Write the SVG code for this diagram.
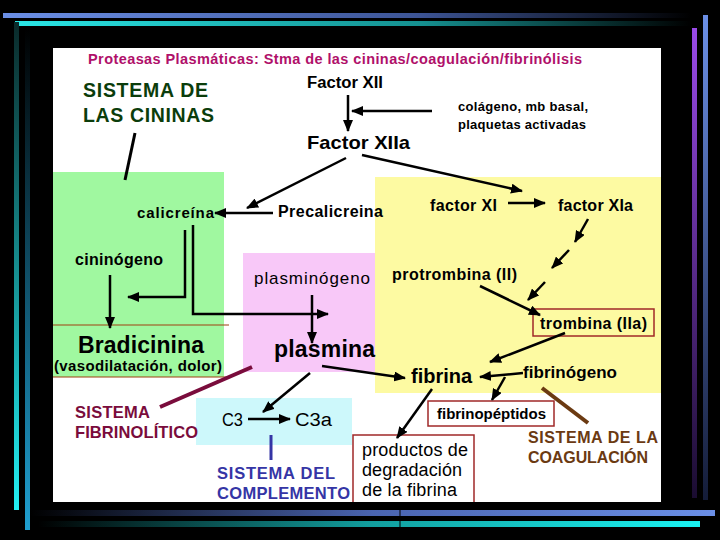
<svg xmlns="http://www.w3.org/2000/svg" width="720" height="540" viewBox="0 0 720 540">
<defs>
<linearGradient id="gTop1" x1="0" y1="0" x2="1" y2="0"><stop offset="0" stop-color="#6b8fe6"/><stop offset="0.6" stop-color="#3d5596"/><stop offset="1" stop-color="#000"/></linearGradient>
<linearGradient id="gTop2" x1="0" y1="0" x2="1" y2="0"><stop offset="0" stop-color="#2ae6e6"/><stop offset="0.6" stop-color="#159090"/><stop offset="1" stop-color="#000"/></linearGradient>
<linearGradient id="gL1" x1="0" y1="0" x2="0" y2="1"><stop offset="0" stop-color="#0a2a2a"/><stop offset="1" stop-color="#22eef2"/></linearGradient>
<linearGradient id="gL2" x1="0" y1="0" x2="0" y2="1"><stop offset="0" stop-color="#000"/><stop offset="1" stop-color="#1f9fd0"/></linearGradient>
<linearGradient id="gR1" x1="0" y1="0" x2="0" y2="1"><stop offset="0" stop-color="#9a4ae8"/><stop offset="1" stop-color="#1a0c30"/></linearGradient>
<linearGradient id="gR2" x1="0" y1="0" x2="0" y2="1"><stop offset="0" stop-color="#6b8fe6"/><stop offset="1" stop-color="#141c38"/></linearGradient>
<linearGradient id="gB1" x1="0" y1="0" x2="1" y2="0"><stop offset="0" stop-color="#000"/><stop offset="0.5" stop-color="#4a64b0"/><stop offset="1" stop-color="#6b8fe6"/></linearGradient>
<linearGradient id="gB2" x1="0" y1="0" x2="1" y2="0"><stop offset="0" stop-color="#000"/><stop offset="0.5" stop-color="#129e9e"/><stop offset="1" stop-color="#1af2f2"/></linearGradient>
<marker id="ah" markerUnits="userSpaceOnUse" markerWidth="12" markerHeight="10" refX="11" refY="5" orient="auto">
<path d="M0,0 L12,5 L0,10 Z" fill="#000"/>
</marker>
<style>
text{font-family:"Liberation Sans",Arial,sans-serif;}
.b{font-weight:bold;fill:#000;}
.r{font-weight:normal;fill:#000;}
.arr{stroke:#000;stroke-width:2.5;fill:none;marker-end:url(#ah);}
.ln{stroke:#000;stroke-width:3;fill:none;}
.box{fill:none;stroke:#a02828;stroke-width:1.5;}
.brl{stroke:#a04010;stroke-width:1.2;}
</style>
</defs>
<rect x="0" y="0" width="720" height="540" fill="#000"/>
<g id="decor">
<rect x="3" y="13" width="688" height="5" fill="url(#gTop1)"/>
<rect x="15" y="21" width="676" height="5" fill="url(#gTop2)"/>
<rect x="14" y="22" width="5" height="488" fill="url(#gL1)"/>
<rect x="25" y="28" width="5" height="502" fill="url(#gL2)"/>
<rect x="692" y="28" width="5" height="470" fill="url(#gR1)"/>
<rect x="703" y="15" width="5" height="485" fill="url(#gR2)"/>
<rect x="30" y="510" width="685" height="6" fill="url(#gB1)"/>
<rect x="38" y="521" width="662" height="6" fill="url(#gB2)"/>
<line x1="400" y1="508" x2="400" y2="530" stroke="#000" stroke-width="1"/>
</g>
<rect id="panel" x="53" y="48" width="608" height="454" fill="#fff"/>
<g id="regions">
<rect x="53" y="172" width="171" height="205" fill="#a0f8a0"/>
<rect x="375" y="177" width="286" height="216" fill="#fdfaa2"/>
<rect x="243" y="253" width="132" height="119" fill="#f8c8f8"/>
<rect x="196" y="398" width="156" height="47" fill="#cdf8fb"/>
<line class="brl" x1="53" y1="325" x2="229" y2="325"/>
<line class="brl" x1="53" y1="377" x2="229" y2="377"/>
</g>
<text id="title" x="88" y="64" font-size="14.5" font-weight="bold" fill="#b0106a" textLength="494" lengthAdjust="spacing">Proteasas Plasmáticas: Stma de las cininas/coagulación/fibrinólisis</text>
<g id="sis-cininas" font-weight="bold" fill="#0b3d0b" font-size="19.5">
<text x="83" y="97" textLength="125" lengthAdjust="spacing">SISTEMA DE</text>
<text x="83" y="122" textLength="131" lengthAdjust="spacing">LAS CININAS</text>
</g>
<g id="factorXII"><text class="b" x="307" y="88" font-size="16" textLength="76" lengthAdjust="spacingAndGlyphs">Factor XII</text></g>
<g id="colageno" font-size="13">
<text class="b" x="458" y="111" textLength="130" lengthAdjust="spacing">colágeno, mb basal,</text>
<text class="b" x="458" y="129" textLength="128" lengthAdjust="spacing">plaquetas activadas</text>
</g>
<g id="factorXIIa"><text class="b" x="307" y="149" font-size="19" textLength="103" lengthAdjust="spacingAndGlyphs">Factor XIIa</text></g>
<g id="calicreina"><text class="b" x="137" y="218" font-size="15" textLength="77" lengthAdjust="spacing">calicreína</text></g>
<g id="precalicreina"><text class="b" x="278" y="217" font-size="16" textLength="105" lengthAdjust="spacing">Precalicreina</text></g>
<g id="cininogeno"><text class="b" x="75" y="265" font-size="16" textLength="88" lengthAdjust="spacing">cininógeno</text></g>
<g id="bradicinina">
<text class="b" x="78" y="353" font-size="23" textLength="126" lengthAdjust="spacing">Bradicinina</text>
<text class="b" x="54" y="371" font-size="15" textLength="168" lengthAdjust="spacing">(vasodilatación, dolor)</text>
</g>
<g id="plasminogeno"><text class="r" x="254" y="284" font-size="17" textLength="116" lengthAdjust="spacing">plasminógeno</text></g>
<g id="plasmina"><text class="b" x="274" y="357" font-size="23" textLength="101" lengthAdjust="spacing">plasmina</text></g>
<g id="factorXI"><text class="b" x="430" y="211" font-size="16" textLength="67" lengthAdjust="spacing">factor XI</text></g>
<g id="factorXIa"><text class="b" x="558" y="211" font-size="16" textLength="75" lengthAdjust="spacing">factor XIa</text></g>
<g id="protrombina"><text class="b" x="392" y="280" font-size="16" textLength="125" lengthAdjust="spacing">protrombina (II)</text></g>
<g id="trombina">
<rect class="box" x="533" y="309" width="121" height="27"/>
<text class="b" x="540" y="329" font-size="16" textLength="107" lengthAdjust="spacing">trombina (IIa)</text>
</g>
<g id="fibrina"><text class="b" x="411" y="383" font-size="20" textLength="61" lengthAdjust="spacing">fibrina</text></g>
<g id="fibrinogeno"><text class="b" x="523" y="378" font-size="17" textLength="94" lengthAdjust="spacing">fibrinógeno</text></g>
<g id="fibrinopeptidos">
<rect class="box" x="428" y="401" width="126" height="25"/>
<text class="b" x="437" y="419" font-size="15" textLength="109" lengthAdjust="spacing">fibrinopéptidos</text>
</g>
<g id="productos">
<path class="box" d="M353,502 V435 H474 V502"/>
<text class="r" x="362" y="456" font-size="18" textLength="106" lengthAdjust="spacing">productos de</text>
<text class="r" x="362" y="476" font-size="18" textLength="100" lengthAdjust="spacing">degradación</text>
<text class="r" x="362" y="496" font-size="18" textLength="95" lengthAdjust="spacing">de la fibrina</text>
</g>
<g id="sis-fibrinolitico" font-weight="bold" fill="#7a0c3c" font-size="16.5">
<text x="75" y="418" textLength="75" lengthAdjust="spacing">SISTEMA</text>
<text x="75" y="438" textLength="123" lengthAdjust="spacing">FIBRINOLÍTICO</text>
</g>
<g id="c3"><text class="r" x="222" y="426" font-size="18" textLength="21" lengthAdjust="spacingAndGlyphs">C3</text></g>
<g id="c3a"><text class="r" x="295" y="426" font-size="18" textLength="37" lengthAdjust="spacingAndGlyphs">C3a</text></g>
<g id="sis-complemento" font-weight="bold" fill="#3535a5" font-size="16.5">
<text x="217" y="479" textLength="118" lengthAdjust="spacing">SISTEMA DEL</text>
<text x="217" y="499" textLength="133" lengthAdjust="spacing">COMPLEMENTO</text>
</g>
<g id="sis-coagulacion" font-weight="bold" fill="#6b3a12" font-size="16">
<text x="528" y="443" textLength="130" lengthAdjust="spacing">SISTEMA DE LA</text>
<text x="528" y="463" textLength="120" lengthAdjust="spacing">COAGULACIÓN</text>
</g>
<g id="connectors">
<line class="arr" x1="348" y1="95" x2="348" y2="131"/>
<line class="arr" x1="432" y1="111" x2="352" y2="111"/>
<line class="arr" x1="346" y1="158" x2="247" y2="208"/>
<line class="arr" x1="362" y1="155" x2="522" y2="191"/>
<line class="arr" x1="273" y1="213" x2="215" y2="213"/>
<polyline class="arr" points="185,230 185,297 128,297"/>
<polyline class="arr" points="193,225 193,314 328,314"/>
<line class="arr" x1="110" y1="275" x2="110" y2="328"/>
<line class="arr" x1="312" y1="295" x2="312" y2="343"/>
<line class="arr" x1="322" y1="366" x2="405" y2="378"/>
<line class="arr" x1="310" y1="373" x2="263" y2="412"/>
<line class="arr" x1="248" y1="419" x2="290" y2="419"/>
<line class="arr" x1="508" y1="203" x2="545" y2="203"/>
<line class="arr" x1="588" y1="219" x2="575" y2="242"/>
<line class="arr" x1="569" y1="250" x2="552" y2="268"/>
<line class="arr" x1="545" y1="282" x2="528" y2="300"/>
<line class="arr" x1="480" y1="286" x2="540" y2="315"/>
<line class="arr" x1="565" y1="333" x2="490" y2="362"/>
<line class="arr" x1="523" y1="373" x2="480" y2="377"/>
<line class="arr" x1="505" y1="377" x2="492" y2="400"/>
<line class="arr" x1="432" y1="389" x2="397" y2="438"/>
<line class="ln" x1="135" y1="133" x2="125" y2="180"/>
<line x1="160" y1="407" x2="252" y2="367" stroke="#7a0c3c" stroke-width="4"/>
<line x1="271" y1="435" x2="271" y2="460" stroke="#3535a5" stroke-width="3"/>
<line x1="542" y1="388" x2="588" y2="423" stroke="#6b3a12" stroke-width="4"/>
</g>
</svg>
